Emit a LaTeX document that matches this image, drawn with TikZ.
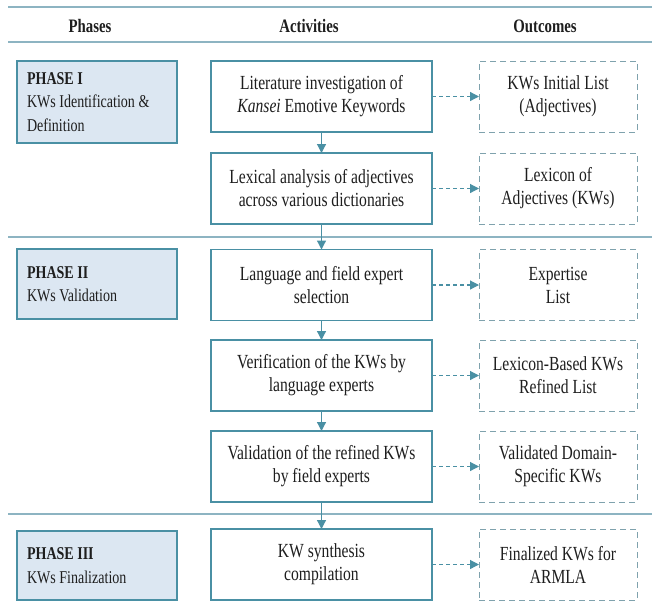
\documentclass[tikz,border=0pt]{standalone}
\usepackage{fontspec}
\setmainfont{Liberation Serif}[FakeStretch=0.78]
\usetikzlibrary{arrows.meta}

\definecolor{boxline}{HTML}{4A90A4}
\definecolor{rowline}{HTML}{8DB4C2}
\definecolor{phasefill}{HTML}{DCE7F2}
\definecolor{outline}{HTML}{7FA2AD}
\definecolor{ink}{HTML}{1E1E1E}

\begin{document}
\begin{tikzpicture}[x=1pt, y=-1pt,
    every node/.style={font=\fontsize{20}{23}\selectfont, text=ink},
    headtext/.style={font=\fontsize{19}{23}\selectfont\bfseries},
    phasebox/.style={draw=boxline, line width=1.2pt, fill=phasefill, minimum width=160pt,
        text width=140pt, inner xsep=10pt, align=flush left, outer sep=0pt,
        font=\fontsize{18}{23.5}\selectfont},
    actbox/.style={draw=boxline, line width=1.2pt, fill=white, minimum width=221pt,
        minimum height=71pt, align=center, outer sep=0pt},
    outbox/.style={draw=outline, line width=1pt, dash pattern=on 6pt off 4pt, minimum width=158pt,
        minimum height=71pt, align=center, outer sep=0pt},
    flow/.style={draw=boxline, line width=1.2pt, -{Triangle[length=9pt,width=9pt]}},
    yields/.style={flow, dash pattern=on 4pt off 3pt}]
    \useasboundingbox (0,0) rectangle (652,614);

    % Draw row lines
    \draw[rowline, line width=1.2pt] (8,7) -- (652,7);
    \draw[rowline, line width=1.2pt] (8,42) -- (652,42);
    \draw[rowline, line width=1.2pt] (8,237) -- (652,237);
    \draw[rowline, line width=1.2pt] (8,514) -- (652,514);

    % Column heads
    \node[headtext] (hphase) at (90,26) {Phases};
    \node[headtext] (hact) at (309,26) {Activities};
    \node[headtext] (hout) at (545,26) {Outcomes};

    % Phases
    \node[phasebox, minimum height=82pt] (p1) at (97,102) {\textbf{PHASE I}\\KWs Identification \&\\Definition};
    \node[phasebox, minimum height=70pt] (p2) at (97,284) {\textbf{PHASE II}\\KWs Validation};
    \node[phasebox, minimum height=69pt] (p3) at (97,565.5) {\textbf{PHASE III}\\KWs Finalization};

    % Activities
    \node[actbox] (a1) at (321.5,96.5) {Literature investigation of\\\textit{Kansei} Emotive Keywords};
    \node[actbox] (a2) at (321.5,188.5) {Lexical analysis of adjectives\\across various dictionaries};
    \node[actbox] (a3) at (321.5,285) {Language and field expert\\selection};
    \node[actbox] (a4) at (321.5,375.5) {Verification of the KWs by\\language experts};
    \node[actbox] (a5) at (321.5,466.5) {Validation of the refined KWs\\by field experts};
    \node[actbox] (a6) at (321.5,564.5) {KW synthesis\\compilation};

    % Outcomes
    \node[outbox] (o1) at (558,96.5) {KWs Initial List\\(Adjectives)};
    \node[outbox] (o2) at (558,188.5) {Lexicon of\\Adjectives (KWs)};
    \node[outbox] (o3) at (558,285) {Expertise\\List};
    \node[outbox] (o4) at (558,375.5) {Lexicon-Based KWs\\Refined List};
    \node[outbox] (o5) at (558,466.5) {Validated Domain-\\Specific KWs};
    \node[outbox] (o6) at (558,564.5) {Finalized KWs for\\ARMLA};

    % Draw flow between activities
    \draw[flow] (a1) -- (a2);
    \draw[flow] (a2) -- (a3);
    \draw[flow] (a3) -- (a4);
    \draw[flow] (a4) -- (a5);
    \draw[flow] (a5) -- (a6);

    % Draw activity to outcome
    \draw[yields] (a1) -- (o1);
    \draw[yields] (a2) -- (o2);
    \draw[yields] (a3) -- (o3);
    \draw[yields] (a4) -- (o4);
    \draw[yields] (a5) -- (o5);
    \draw[yields] (a6) -- (o6);
\end{tikzpicture}
\end{document}
